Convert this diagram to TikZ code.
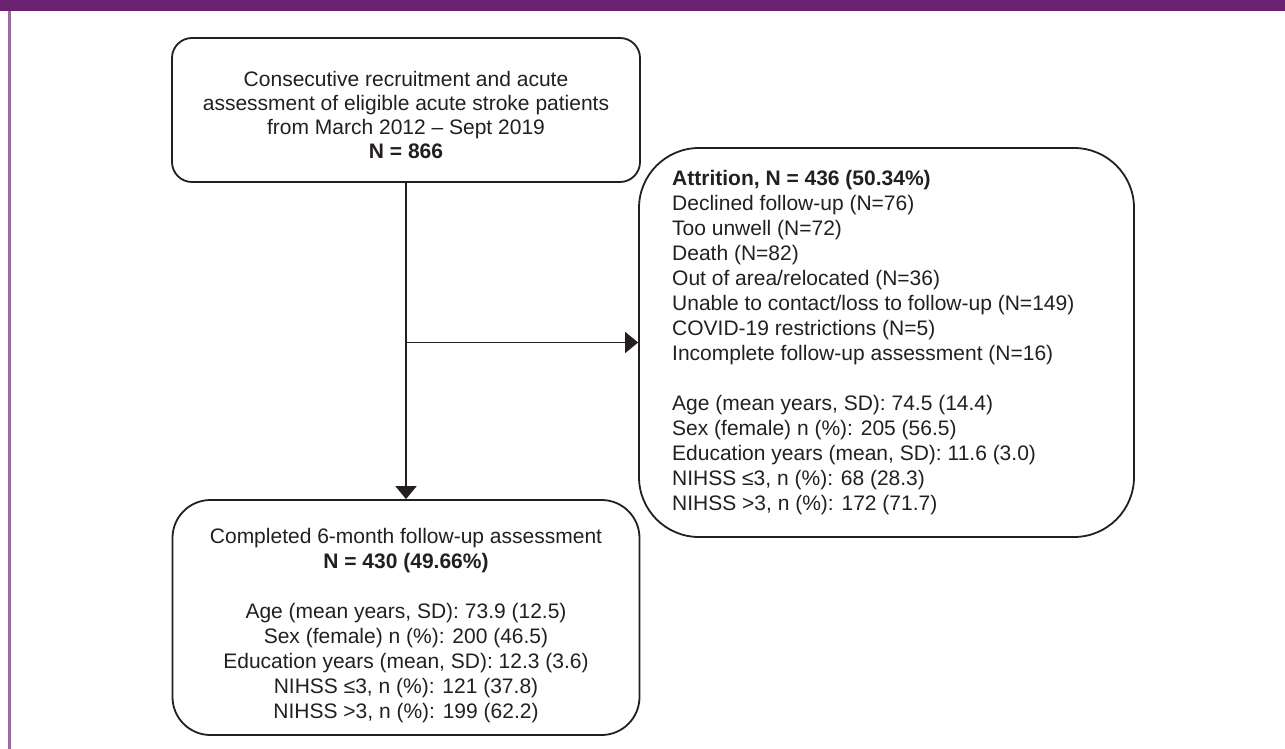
\documentclass[tikz,border=0pt]{standalone}
\usepackage{fontspec}
\setmainfont{Liberation Sans}
\usetikzlibrary{arrows.meta}
\definecolor{barpurple}{HTML}{6B2070}
\definecolor{edgepurple}{HTML}{9A6AA0}
\definecolor{ink}{HTML}{231F20}
\begin{document}
\begin{tikzpicture}[x=1pt,y=-1pt,
  box/.style={draw=ink, line width=1.8pt, inner sep=0pt},
  txt/.style={font=\fontsize{21}{25}\selectfont, text=ink, inner sep=0pt},
  arr/.style={draw=ink, line width=1.8pt, -{Triangle[length=13pt,width=21pt]}}
]
\useasboundingbox (0,0) rectangle (1285,749);
\fill[barpurple] (0,0) rectangle (1285,11);
\fill[edgepurple] (8,11) rectangle (10.5,749);

\node[box, rounded corners=20pt, minimum width=468pt, minimum height=144pt] (recruit) at (406,110) {};
\node[txt, align=center, font=\fontsize{21}{24}\selectfont] (recruittxt) at (406,115) {Consecutive recruitment and acute\\assessment of eligible acute stroke patients\\from March 2012 -- Sept 2019\\\textbf{N = 866}};

\node[box, rounded corners=60pt, minimum width=495pt, minimum height=389pt] (attrition) at (886.5,342.5) {};
\node[txt, align=left, anchor=west] (attritiontxt) at (672,342.5) {\textbf{Attrition, N = 436 (50.34\%)}\\
Declined follow-up (N=76)\\
Too unwell (N=72)\\
Death (N=82)\\
Out of area/relocated (N=36)\\
Unable to contact/loss to follow-up (N=149)\\
COVID-19 restrictions (N=5)\\
Incomplete follow-up assessment (N=16)\\[25pt]
Age (mean years, SD): 74.5 (14.4)\\
Sex (female) n (\%): 205 (56.5)\\
Education years (mean, SD): 11.6 (3.0)\\
NIHSS ≤3, n (\%): 68 (28.3)\\
NIHSS >3, n (\%): 172 (71.7)};

\node[box, rounded corners=38pt, minimum width=467pt, minimum height=235pt] (followup) at (406,617.5) {};
\node[txt, align=center] (followuptxt) at (406,626) {Completed 6-month follow-up assessment\\
\textbf{N = 430 (49.66\%)}\\[25pt]
Age (mean years, SD): 73.9 (12.5)\\
Sex (female) n (\%): 200 (46.5)\\
Education years (mean, SD): 12.3 (3.6)\\
NIHSS ≤3, n (\%): 121 (37.8)\\
NIHSS >3, n (\%): 199 (62.2)};

\draw[arr] (recruit.south) -- (followup.north);
\coordinate (branch) at (recruit.south |- attrition.west);
\draw[arr] (branch) -- (attrition.west);
\end{tikzpicture}
\end{document}
